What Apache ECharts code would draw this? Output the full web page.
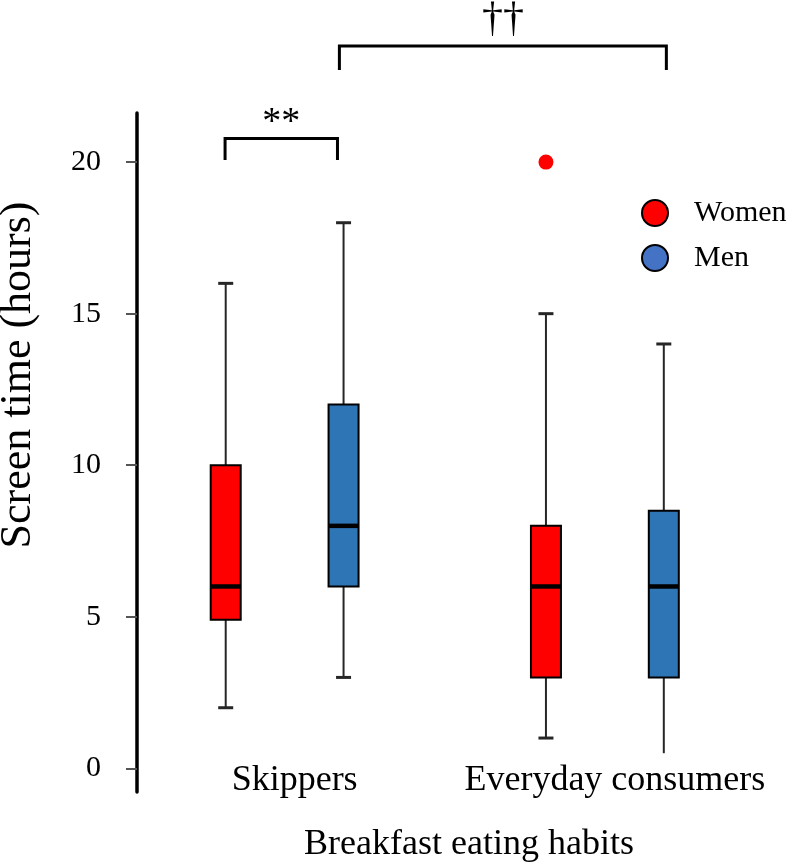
<!DOCTYPE html>
<html><head><meta charset="utf-8">
<script src="https://cdn.jsdelivr.net/npm/echarts@6/dist/echarts.min.js"></script>
<style>html,body{margin:0;padding:0;background:#fff}#c{width:790px;height:863px}</style>
</head><body><div id="c"></div>
<script>
// ---------- data ----------
const categories = ['Skippers', 'Everyday consumers'];
const seriesNames = ['Women', 'Men'];
// [min, Q1, median, Q3, max] for each category
const womenStats = [[2, 4.9, 6, 10, 16], [1, 3, 6, 8, 15]];
const menStats = [[3, 6, 8, 12, 18], [0.5, 3, 6, 8.5, 14]];
const womenOutliers = [[], [20]];
const menOutliers = [[], []];
const yTicks = [0, 5, 10, 15, 20];
const sigLabels = ['**', '\u2020\u2020'];

// ---------- styling / layout ----------
const FONT = '"Liberation Serif","Times New Roman",serif';
const GROUP_OFFSET = 0.184;
const BOX_W = 30, CAP_W = 15;
const boxColors = { Women: '#FF0000', Men: '#2E75B6' };
const legendColors = { Women: '#FF0000', Men: '#4472C4' };
const hideLowerCap = { Women: [], Men: [1] };

function makeSeries(name, stats, outliers, sign) {
  return {
    type: 'custom',
    name: name,
    clip: false,
    data: stats.map((s, i) => [i + 1].concat(s)),
    itemStyle: { color: legendColors[name] },
    renderItem: function (params, api) {
      const idx = params.dataIndex;
      const xv = api.value(0) + sign * GROUP_OFFSET;
      const mn = api.value(1), q1 = api.value(2), md = api.value(3), q3 = api.value(4), mx = api.value(5);
      const px = api.coord([xv, md])[0];
      const y = v => api.coord([xv, v])[1];
      const wStyle = { stroke: '#262626', lineWidth: 2 };
      const cStyle = { stroke: '#262626', lineWidth: 3 };
      const children = [
        { type: 'line', shape: { x1: px, y1: y(q3), x2: px, y2: y(mx) }, style: wStyle },
        { type: 'line', shape: { x1: px, y1: y(q1), x2: px, y2: y(mn) }, style: wStyle },
        { type: 'line', shape: { x1: px - CAP_W / 2, y1: y(mx), x2: px + CAP_W / 2, y2: y(mx) }, style: cStyle }
      ];
      if (hideLowerCap[name].indexOf(idx) < 0) {
        children.push({ type: 'line', shape: { x1: px - CAP_W / 2, y1: y(mn), x2: px + CAP_W / 2, y2: y(mn) }, style: cStyle });
      }
      children.push({ type: 'rect', shape: { x: px - BOX_W / 2, y: y(q3), width: BOX_W, height: y(q1) - y(q3) },
        style: { fill: boxColors[name], stroke: '#000', lineWidth: 2 } });
      children.push({ type: 'line', shape: { x1: px - BOX_W / 2, y1: y(md), x2: px + BOX_W / 2, y2: y(md) },
        style: { stroke: '#000', lineWidth: 4.5 } });
      (outliers[idx] || []).forEach(v => {
        children.push({ type: 'circle', shape: { cx: px, cy: y(v), r: 7.5 }, style: { fill: boxColors[name] } });
      });
      return { type: 'group', children: children };
    }
  };
}

const chart = echarts.init(document.getElementById('c'), null, { renderer: 'canvas' });
chart.setOption({
  animation: false,
  backgroundColor: '#fff',
  textStyle: { fontFamily: FONT, color: '#000' },
  grid: { left: 137, top: 113, width: 628, height: 679, containLabel: false, outerBoundsMode: 'none' },
  legend: {
    orient: 'vertical', left: 641, top: 198, padding: 0, itemWidth: 26, itemHeight: 26, itemGap: 15, icon: 'circle',
    selectedMode: false,
    textStyle: { fontSize: 30, fontFamily: FONT, color: '#000', lineHeight: 26, padding: [0, 0, 0, 21] },
    data: seriesNames.map(n => ({ name: n, itemStyle: { color: legendColors[n], borderColor: '#000', borderWidth: 2 } }))
  },
  xAxis: {
    type: 'value', min: 0.539, max: 2.5,
    axisLine: { show: false, onZero: false },
    axisTick: { show: false },
    splitLine: { show: false },
    axisLabel: {
      customValues: [1, 2],
      formatter: v => categories[Math.round(v) - 1],
      fontSize: 36, fontFamily: FONT, color: '#000', margin: -29, padding: [0, 0, 0, 20]
    },
    name: 'Breakfast eating habits', nameLocation: 'middle', nameGap: 35,
    nameTextStyle: { fontSize: 36, fontFamily: FONT, color: '#000', padding: [0, 0, 0, 36] }
  },
  yAxis: {
    type: 'value', min: -0.78, max: 21.62,
    axisLine: { show: true, onZero: false, lineStyle: { color: '#000', width: 3.5 } },
    axisTick: { show: true, customValues: yTicks, length: 11, lineStyle: { color: '#555', width: 2 } },
    axisLabel: { customValues: yTicks, margin: 36, fontSize: 30, fontFamily: FONT, color: '#000', padding: [8, 0, 0, 0] },
    splitLine: { show: false },
    name: 'Screen time (hours)', nameLocation: 'middle', nameGap: 97,
    nameTextStyle: { fontSize: 44, fontFamily: FONT, color: '#000', padding: [0, 0, 0, 155] }
  },
  series: [
    makeSeries('Women', womenStats, womenOutliers, -1),
    makeSeries('Men', menStats, menOutliers, 1)
  ]
});

// significance brackets (positions in data units)
const brackets = [
  { x1: 1 - 0.186, x2: 1 + 0.165, top: 20.78, leg: 20.07, label: sigLabels[0], fontSize: 38, dy: -15 },
  { x1: 1 + 0.171, x2: 2 + 0.192, top: 23.83, leg: 23.04, label: sigLabels[1], fontSize: 42, dy: -26 }
];
const graphics = [];
brackets.forEach(b => {
  const pL = chart.convertToPixel({ gridIndex: 0 }, [b.x1, b.top]);
  const pR = chart.convertToPixel({ gridIndex: 0 }, [b.x2, b.top]);
  const pB = chart.convertToPixel({ gridIndex: 0 }, [b.x1, b.leg]);
  graphics.push({ type: 'polyline', shape: { points: [[pL[0], pB[1]], [pL[0], pL[1]], [pR[0], pR[1]], [pR[0], pB[1]]] },
    style: { stroke: '#000', lineWidth: 3, fill: null } });
  graphics.push({ type: 'text', x: (pL[0] + pR[0]) / 2, y: pL[1] + b.dy,
    style: { text: b.label, font: b.fontSize + 'px ' + FONT, fill: '#000', align: 'center', verticalAlign: 'middle' } });
});
chart.setOption({ graphic: graphics });
</script>
</body></html>
